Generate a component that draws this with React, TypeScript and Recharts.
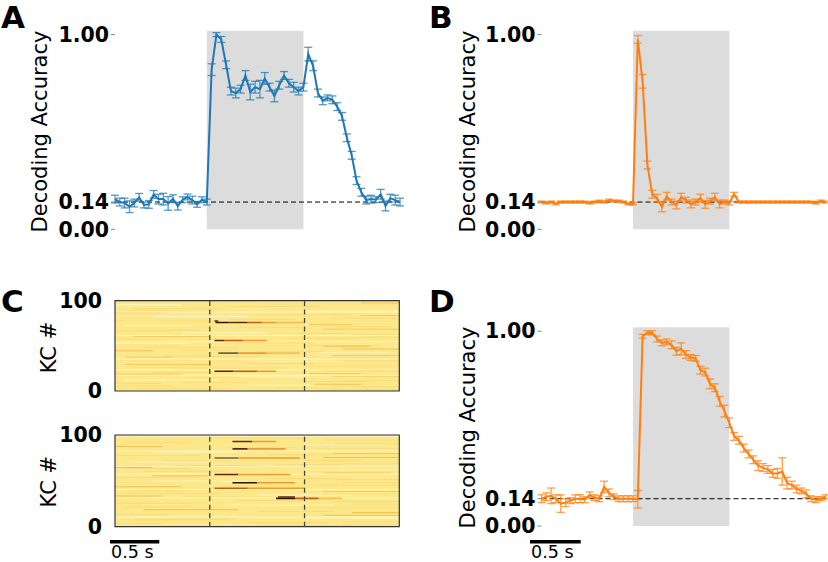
import React from 'react';
import { LineChart, Line, XAxis, YAxis, ReferenceArea, ReferenceLine, ErrorBar } from 'recharts';

// time grid (s), stimulus from 0 to 1 s
const TIME = [-0.95,-0.9,-0.85,-0.8,-0.75,-0.7,-0.65,-0.6,-0.55,-0.5,-0.45,-0.4,-0.35,-0.3,-0.25,-0.2,-0.15,-0.1,-0.05,0,
  0.05,0.1,0.15,0.2,0.25,0.3,0.35,0.4,0.45,0.5,0.55,0.6,0.65,0.7,0.75,0.8,0.85,0.9,0.95,1.0,
  1.05,1.1,1.15,1.2,1.25,1.3,1.35,1.4,1.45,1.5,1.55,1.6,1.65,1.7,1.75,1.8,1.85,1.9,1.95,2.0];

const ACC_A = [0.155,0.14,0.135,0.116,0.135,0.164,0.125,0.128,0.179,0.155,0.155,0.133,0.157,0.119,0.152,0.166,0.15,0.128,0.152,0.14,
  0.82,1.0,0.975,0.845,0.71,0.70,0.72,0.79,0.705,0.73,0.72,0.775,0.73,0.685,0.74,0.79,0.75,0.73,0.71,0.73,
  0.90,0.84,0.70,0.66,0.675,0.665,0.63,0.58,0.47,0.38,0.25,0.19,0.15,0.155,0.152,0.18,0.12,0.16,0.15,0.14];
const ERR_A = [0.02,0.02,0.025,0.03,0.02,0.02,0.015,0.02,0.02,0.025,0.03,0.035,0.02,0.02,0.015,0.015,0.02,0.015,0.015,0.015,
  0.03,0.01,0.015,0.02,0.02,0.025,0.02,0.025,0.04,0.03,0.045,0.03,0.02,0.03,0.02,0.02,0.02,0.025,0.02,0.02,
  0.035,0.025,0.02,0.02,0.015,0.02,0.02,0.02,0.02,0.02,0.02,0.02,0.02,0.02,0.015,0.025,0.025,0.02,0.025,0.02];

const ACC_B = [0.14,0.135,0.14,0.13,0.14,0.14,0.14,0.14,0.14,0.14,0.135,0.14,0.145,0.14,0.15,0.145,0.145,0.14,0.13,0.13,
  0.975,0.76,0.33,0.18,0.16,0.115,0.17,0.14,0.125,0.165,0.15,0.13,0.14,0.16,0.128,0.145,0.165,0.13,0.14,0.135,
  0.18,0.14,0.14,0.14,0.14,0.14,0.14,0.14,0.14,0.14,0.14,0.14,0.14,0.14,0.14,0.14,0.14,0.135,0.145,0.14];
const ERR_B = [0.005,0.005,0.005,0.005,0.005,0.005,0.005,0.005,0.005,0.005,0.005,0.005,0.005,0.005,0.005,0.005,0.005,0.005,0.005,0.005,
  0.02,0.035,0.02,0.02,0.02,0.025,0.02,0.015,0.02,0.02,0.015,0.02,0.015,0.02,0.02,0.015,0.02,0.02,0.01,0.01,
  0.01,0.005,0.005,0.005,0.005,0.005,0.005,0.005,0.005,0.005,0.005,0.005,0.005,0.005,0.005,0.005,0.005,0.005,0.005,0.005];

const ACC_D = [0.14,0.15,0.155,0.14,0.115,0.12,0.13,0.14,0.14,0.135,0.16,0.145,0.14,0.20,0.17,0.15,0.14,0.14,0.14,0.14,
  0.137,0.974,0.992,0.992,0.96,0.94,0.945,0.93,0.897,0.91,0.88,0.865,0.86,0.80,0.79,0.73,0.71,0.64,0.59,0.53,
  0.46,0.44,0.40,0.37,0.34,0.31,0.30,0.29,0.27,0.27,0.28,0.22,0.21,0.19,0.18,0.165,0.14,0.135,0.14,0.15];
const ERR_D = [0.02,0.02,0.04,0.02,0.045,0.02,0.015,0.02,0.02,0.015,0.015,0.015,0.015,0.03,0.02,0.015,0.015,0.015,0.015,0.015,
  0.045,0.01,0.01,0.01,0.015,0.015,0.015,0.02,0.02,0.03,0.02,0.015,0.015,0.02,0.02,0.025,0.02,0.025,0.03,0.025,
  0.02,0.02,0.02,0.02,0.02,0.025,0.02,0.02,0.02,0.025,0.07,0.03,0.02,0.02,0.015,0.02,0.015,0.015,0.01,0.01];

const Y_TICKS = [0, 0.14, 1.0];
const CHANCE = 0.14;
const STIM = [0, 1];
const HEAT_TICKS = [0, 100];

// heatmap streaks: [row, tStart, tEnd, intensity]
const HEAT_TOP_BG = [
  [97,1.6,2.0,2],[95,-1,-0.3,-1],[93,0.2,1.2,1],[91,-0.8,0.1,1],[88,1.0,2.0,-1],[86,-1,-0.5,2],[84,0.5,1.5,1],[82,-0.6,0.4,-1],
  [80,1.3,2.0,1],[78,-1,0,1],[73,1.05,1.5,2],[72,-0.9,-0.2,-1],[70,0.3,1.0,1],[68,1.2,2.0,2],[66,-1,-0.4,1],[64,-0.3,0.6,-1],
  [62,1.5,2.0,1],[60,-0.8,0,2],[58,0.8,1.6,1],[54,-1,2,-1],[52,-1,-0.2,-1],[50,1.0,1.8,1],[48,-0.7,0.3,1],[46,1.4,2.0,2],
  [44,-1,-0.6,2],[42,1.1,1.9,-1],[38,-0.5,0.5,1],[36,1.2,2.0,1],[34,-1,-0.2,1],[32,0.6,1.4,-1],[29,-0.9,0.0,2],[27,1.0,2.0,1],
  [25,-0.4,0.8,1],[23,-1,2,-1],[19,1.05,1.6,2],[18,-1,-0.3,2],[16,1.3,2.0,2],[14,-0.2,0.9,1],[12,-0.9,0.1,-1],[10,1.0,1.7,1],
  [8,-1,-0.5,1],[6,0.4,1.3,-1],[4,1.5,2.0,1],[2,-0.8,0.2,1],[76,-0.5,0.0,1],[39,1.3,2.0,2],[57,-1,-0.5,1],[88,-0.4,0.2,1],
  [99,-1,0.5,1],[96,0.6,1.9,1],[89,-0.9,-0.4,1],[83,1.6,2.0,2],[79,0.2,0.9,1],[71,1.3,1.9,1],[67,-0.6,-0.1,1],[63,0.9,1.4,1],
  [59,1.6,2.0,1],[53,0.3,1.1,1],[49,1.2,1.7,2],[45,-0.3,0.3,1],[43,0.5,1.2,1],[37,-0.9,-0.4,2],[33,1.4,2.0,1],[30,0.4,1.1,1],
  [26,-0.8,-0.3,1],[22,1.2,2.0,1],[20,-0.6,0.0,1],[15,0.3,1.0,-1],[11,1.4,2.0,1],[9,-0.3,0.4,1],[7,1.1,1.6,2],[5,-1,-0.4,1],
  [3,0.7,1.4,1],[1,1.2,2.0,1],[61,-1,2,-1],[35,-1,2,-1],[17,-1,2,-1],[87,-1,2,-1],
];
const HEAT_TOP_RESP = [
  [75,0.06,0.2,6],[75,0.2,0.4,5],[75,0.4,0.55,4],[75,0.55,0.7,3],[75,0.7,1.0,2],[76.6,0.05,0.09,5],
  [55,0.05,0.15,5],[55,0.15,0.35,4],[55,0.35,0.6,3],
  [41,0.09,0.3,7],[41,0.3,0.6,3],[41,0.6,0.95,2],
  [21,0.05,0.25,5],[21,0.25,0.5,4],[21,0.5,0.7,3],
];
const HEAT_BOT_BG = [
  [98,-1,2,-1],[96,0.0,1.0,1],[94,1.2,2.0,1],[91,-0.9,-0.2,1],[89,1.0,1.8,-1],[87,-1,-0.5,2],[85,1.1,2.0,1],[81,-0.6,0.3,-1],
  [79,1.3,2.0,2],[77,-1,-0.1,1],[72,1.0,1.6,1],[70,-0.8,0.0,-1],[68,1.4,2.0,1],[66,-0.4,0.5,1],[64,-1,-0.6,2],[62,1.0,2.0,-1],
  [60,-0.7,0.2,1],[58,1.2,1.9,2],[53,-1,-0.1,1],[51,1.3,2.0,1],[49,-0.6,0.4,-1],[45,1.1,2.0,1],[43,-1,-0.3,2],[38,1.2,2.0,2],
  [36,-0.9,0.1,1],[34,0.5,1.5,-1],[32,-0.3,0.6,1],[27,1.3,2.0,1],[25,-1,-0.2,1],[23,0.2,1.3,-1],[20,1.0,2.0,1],[18,-0.7,0.3,2],
  [15,1.5,2.0,2],[13,-1,-0.4,1],[11,0.3,1.2,1],[9,1.0,2.0,-1],[7,-0.8,0.2,1],[5,1.4,2.0,1],[3,-1,-0.5,1],[1,0.5,1.5,1],
  [57,-1,2,-1],[31,-1,2,-1],
  [99,0.4,1.3,1],[95,-0.7,-0.1,1],[90,1.3,2.0,1],[86,0.2,0.9,1],[83,-0.9,-0.3,1],[78,0.6,1.3,1],[75,1.2,2.0,2],[71,-0.5,0.2,1],
  [67,0.7,1.4,1],[63,-0.9,-0.2,1],[59,1.5,2.0,1],[55,-0.6,0.0,2],[52,0.6,1.3,1],[48,1.4,2.0,1],[44,0.1,0.9,1],[39,-0.8,-0.2,1],
  [35,1.2,1.9,1],[33,-1,-0.5,2],[28,0.3,1.0,1],[24,1.5,2.0,1],[21,-0.9,-0.2,1],[16,0.5,1.3,1],[12,1.2,2.0,2],[8,-0.5,0.3,1],
  [4,0.4,1.2,1],[2,1.4,2.0,1],[65,-1,2,-1],[40,-1,2,-1],[10,-1,2,-1],[82,-1,2,-1],
];
const HEAT_BOT_RESP = [
  [92,0.24,0.45,5],[92,0.45,0.7,3],
  [84,0.24,0.4,5],[84,0.4,0.8,3],
  [74,0.05,0.3,7],[74,0.3,0.95,3],
  [56,0.05,0.3,5],[56,0.3,0.85,3],
  [47,0.24,0.5,6],[47,0.5,0.9,3],
  [41,0.05,0.4,4],[41,0.4,1.0,3],
  [30,0.7,0.9,6],[30,0.9,1.15,4],[30,1.15,1.4,2],[31.5,0.72,0.9,5],
];

const BLUE = '#1f77b4';
const ORANGE = '#ff7f0e';
const FONT = 'DejaVu Sans';
const HEAT_COLORS: Record<string, string> = {
  '-1': '#fff5c6', '1': '#f9db77', '2': '#f4c055', '3': '#ec9a34', '4': '#c45a16', '5': '#5c2a10', '6': '#281408', '7': '#6e6250',
};

const series = (acc: number[], err: number[]) => TIME.map((t, i) => ({ t, acc: acc[i], err: err[i] }));

const tickStyle = { fontFamily: FONT, fontWeight: 'bold' as const, fontSize: 20.5, fill: '#000' };

function AccPanel({ left, top, width, height, margin, yWidth, data, color }: any) {
  return (
    <div style={{ position: 'absolute', left, top }}>
      <LineChart width={width} height={height} data={data} margin={margin}>
        <XAxis dataKey="t" type="number" domain={[-0.95, 2.0]} hide />
        <YAxis type="number" domain={[0, 1.02]} ticks={Y_TICKS} width={yWidth} axisLine={false}
          tickSize={4} tickMargin={2} tickLine={{ stroke: '#666', strokeWidth: 0.8 }}
          tickFormatter={(v: number) => v.toFixed(2)} tick={tickStyle} interval={0} />
        <ReferenceArea x1={STIM[0]} x2={STIM[1]} fill="#dcdcdc" fillOpacity={1} stroke="none" ifOverflow="visible" />
        <ReferenceLine y={CHANCE} stroke="#000" strokeDasharray="5 3" strokeWidth={1} />
        <Line dataKey="acc" stroke={color} strokeWidth={2} dot={false} isAnimationActive={false} type="linear">
          <ErrorBar dataKey="err" width={4} stroke={color} strokeWidth={1.3} strokeOpacity={0.75} direction="y" />
        </Line>
      </LineChart>
    </div>
  );
}

function HeatPanel({ top, height, margin, bg, resp }: any) {
  const all = [...bg, ...resp];
  return (
    <div style={{ position: 'absolute', left: 0, top }}>
      <LineChart width={414} height={height} data={all.map((s: number[]) => ({ t: s[1], r: s[0] }))} margin={margin}>
        <XAxis dataKey="t" type="number" domain={[-1, 2]} hide allowDataOverflow />
        <YAxis type="number" domain={[0, 100]} ticks={HEAT_TICKS} width={115} axisLine={false} tickLine={false}
          tickMargin={7} tick={tickStyle} interval={0} allowDataOverflow />
        <ReferenceArea x1={-1} x2={2} y1={0} y2={100} fill="#fce88a" fillOpacity={1} stroke="none" />
        {bg.map((s: number[], i: number) => (
          <ReferenceArea key={'b' + i} x1={s[1]} x2={s[2]} y1={s[0]} y2={s[0] + 1} fill={HEAT_COLORS[String(s[3])]}
            fillOpacity={1} stroke="none" ifOverflow="hidden" />
        ))}
        {resp.map((s: number[], i: number) => (
          <ReferenceArea key={'r' + i} x1={s[1]} x2={s[2]} y1={s[0]} y2={s[0] + 1.8} fill={HEAT_COLORS[String(s[3])]}
            fillOpacity={1} stroke="none" ifOverflow="hidden" />
        ))}
        <ReferenceLine x={STIM[0]} stroke="#444" strokeDasharray="5 3.5" strokeWidth={1.3} />
        <ReferenceLine x={STIM[1]} stroke="#444" strokeDasharray="5 3.5" strokeWidth={1.3} />
        <ReferenceArea x1={-1} x2={2} y1={0} y2={100} fill="none" stroke="#333" strokeWidth={1.2} />
      </LineChart>
    </div>
  );
}

export default function App() {
  const dA = series(ACC_A, ERR_A);
  const dB = series(ACC_B, ERR_B);
  const dD = series(ACC_D, ERR_D);
  const label = { fontFamily: FONT, fontSize: 21, fill: '#000' };
  const letter = { fontFamily: FONT, fontSize: 31, fontWeight: 'bold' as const, fill: '#000' };
  return (
    <div style={{ position: 'absolute', left: 0, top: 0, width: 828, height: 562, background: '#fff', fontFamily: FONT }}>
      <AccPanel left={0} top={0} width={414} height={252} margin={{ top: 30.7, right: 14, bottom: 22.7, left: 0 }}
        yWidth={115} data={dA} color={BLUE} />
      <AccPanel left={414} top={0} width={414} height={252} margin={{ top: 30.7, right: 2.4, bottom: 22.7, left: 0 }}
        yWidth={127.5} data={dB} color={ORANGE} />
      <AccPanel left={414} top={280} width={414} height={258} margin={{ top: 47.3, right: 2.4, bottom: 12, left: 0 }}
        yWidth={127.5} data={dD} color={ORANGE} />
      <HeatPanel top={280} height={130} margin={{ top: 20.7, right: 14.7, bottom: 19, left: 0 }} bg={HEAT_TOP_BG} resp={HEAT_TOP_RESP} />
      <HeatPanel top={415} height={125} margin={{ top: 20, right: 14.7, bottom: 13.3, left: 0 }} bg={HEAT_BOT_BG} resp={HEAT_BOT_RESP} />
      <svg width={828} height={562} style={{ position: 'absolute', left: 0, top: 0, pointerEvents: 'none' }}>
        <text x={1} y={28} {...letter}>A</text>
        <text x={429} y={28} {...letter}>B</text>
        <text x={1} y={312} {...letter}>C</text>
        <text x={429} y={312} {...letter}>D</text>
        <text transform="translate(47,131.5) rotate(-90)" textAnchor="middle" {...label}>Decoding Accuracy</text>
        <text transform="translate(474.5,131.5) rotate(-90)" textAnchor="middle" {...label}>Decoding Accuracy</text>
        <text transform="translate(474.5,427.5) rotate(-90)" textAnchor="middle" {...label}>Decoding Accuracy</text>
        <text transform="translate(55.5,347.5) rotate(-90)" textAnchor="middle" {...label}>KC #</text>
        <text transform="translate(55.5,481.7) rotate(-90)" textAnchor="middle" {...label}>KC #</text>
        <rect x={110} y={540} width={49.3} height={3.5} fill="#000" />
        <text x={111} y={557.5} fontFamily={FONT} fontSize={17.5} fill="#000">0.5 s</text>
        <rect x={530} y={540} width={50.7} height={3.5} fill="#000" />
        <text x={531} y={557.5} fontFamily={FONT} fontSize={17.5} fill="#000">0.5 s</text>
      </svg>
    </div>
  );
}
